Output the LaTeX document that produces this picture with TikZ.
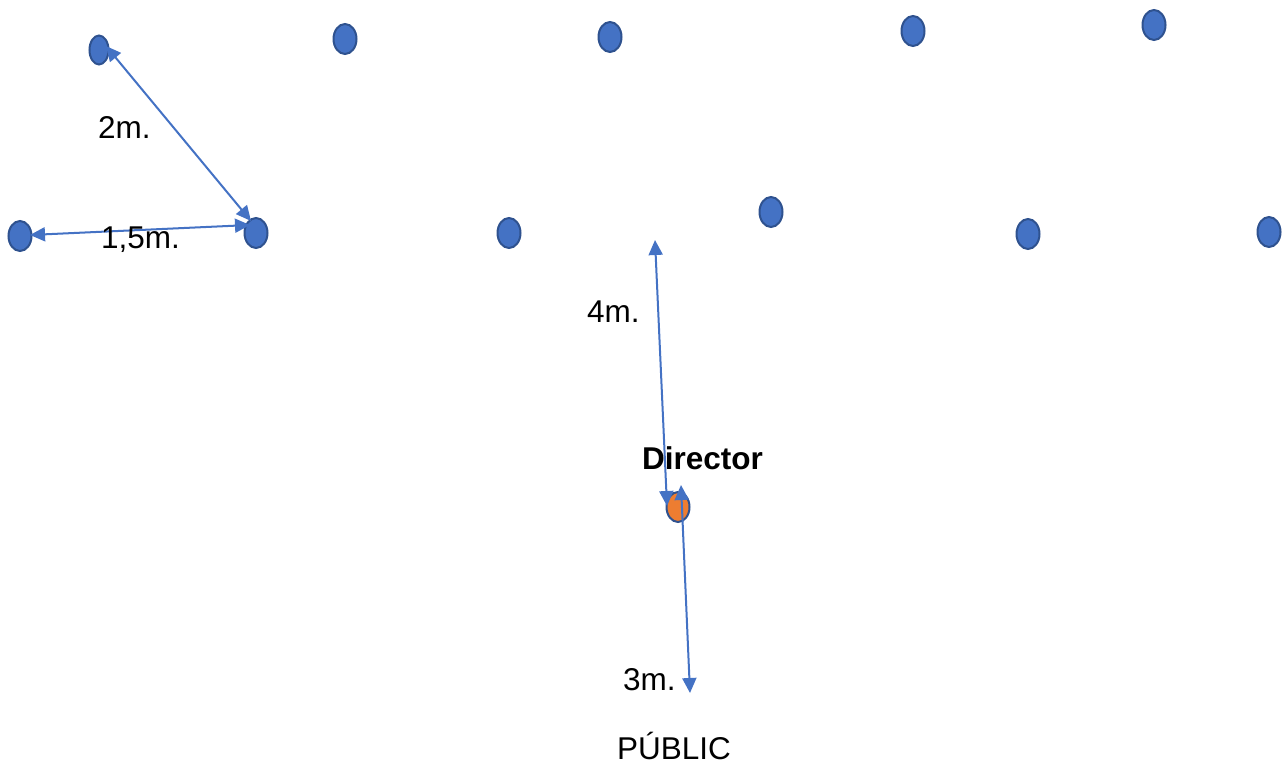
\documentclass[tikz,border=0pt]{standalone}
\usepackage{fontspec}
\setmainfont{Liberation Sans}
\usetikzlibrary{arrows.meta,shapes.geometric}
\definecolor{dotblue}{HTML}{4472C4}
\definecolor{dotedge}{HTML}{2F528F}
\definecolor{dotorange}{HTML}{ED7D31}
\definecolor{linkblue}{HTML}{4472C4}
\tikzset{
  dot/.style={ellipse,draw=dotedge,fill=dotblue,line width=2pt,minimum width=23pt,minimum height=30pt,inner sep=0pt},
  dirdot/.style={dot,fill=dotorange},
  measure/.style={draw=linkblue,line width=2pt,{Triangle[length=15pt,width=14pt]}-{Triangle[length=15pt,width=14pt]}},
  lbl/.style={font=\fontsize{31.5}{38}\selectfont,inner sep=0pt,anchor=base west}
}
\begin{document}
\begin{tikzpicture}[x=1pt,y=-1pt]
\useasboundingbox (0,0) rectangle (1284,767);
% back row
\node[dot,minimum width=19pt,minimum height=29pt] (a1) at (99,50) {};
\node[dot] (a2) at (345,39) {};
\node[dot] (a3) at (610,37) {};
\node[dot] (a4) at (913,31) {};
\node[dot] (a5) at (1154,25) {};
% front row
\node[dot] (b1) at (20,236) {};
\node[dot] (b2) at (256,233) {};
\node[dot] (b3) at (509,233) {};
\node[dot] (b4) at (771,212) {};
\node[dot] (b5) at (1028,234) {};
\node[dot] (b6) at (1269,232) {};
% director
\node[dirdot] (dir) at (678,507) {};
% arrow end points
\coordinate (p2a) at (106,46);
\coordinate (p2b) at (251,221);
\coordinate (p15a) at (30,235);
\coordinate (p15b) at (250,225);
\coordinate (p4a) at (655,240);
\coordinate (p4b) at (667,506);
\coordinate (p3a) at (681,485);
\coordinate (p3b) at (690,693);
\draw[measure] (p2a) -- (p2b);
\draw[measure] (p15a) -- (p15b);
\draw[measure] (p4a) -- (p4b);
\draw[measure] (p3a) -- (p3b);
% labels
\node[lbl] (l2) at (98,139) {2m.};
\node[lbl] (l15) at (101,249) {1,5m.};
\node[lbl] (l4) at (587,322) {4m.};
\node[lbl,font=\fontsize{31.5}{38}\selectfont\bfseries] (ldir) at (642,469) {Director};
\node[lbl] (l3) at (623,690) {3m.};
\node[lbl] (lpub) at (617,759) {PÚBLIC};
\end{tikzpicture}
\end{document}
